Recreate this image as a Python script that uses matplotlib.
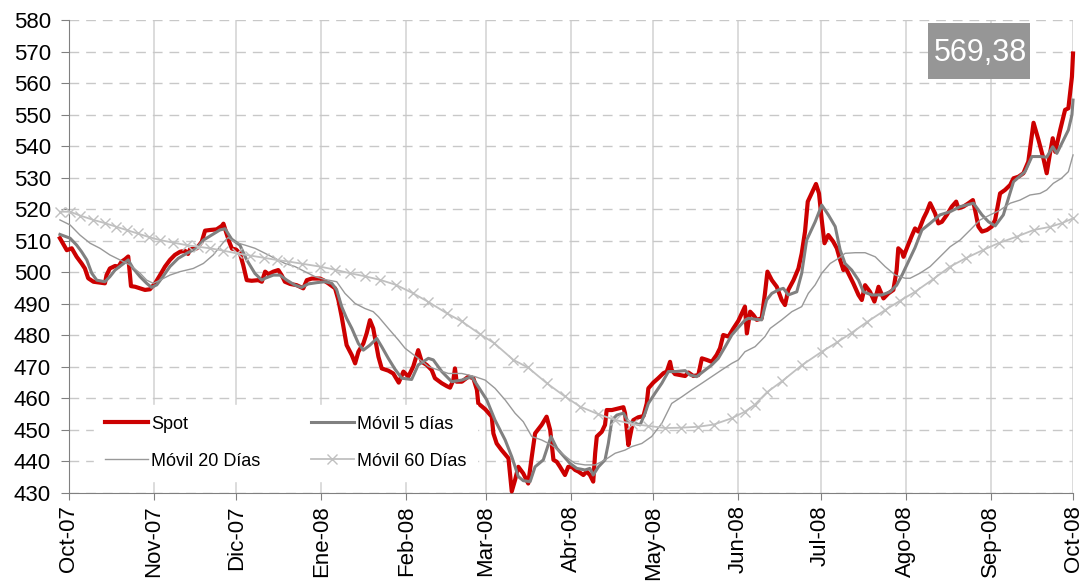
import numpy as np
import pandas as pd
import matplotlib
matplotlib.use("Agg")
import matplotlib.pyplot as plt
import matplotlib.dates as mdates
from matplotlib.patches import Rectangle

plt.rcParams["font.family"] = ["Liberation Sans", "DejaVu Sans"]

# x values are days since 1 Oct 2007
spot_days = [-3.3, -0.8, 1.0, 2.8, 4.6, 5.8, 7.0, 8.9, 11.3, 13.1, 13.7, 14.9, 16.8, 18.0, 19.2,
             20.4, 21.6, 22.6, 24.1, 25.9, 27.7, 29.5, 31.4, 33.2, 35.0, 36.8, 38.6, 40.5, 42.3,
             43.4, 44.1, 46.6, 48.4, 49.6, 51.4, 53.8, 55.7, 56.3, 57.6, 58.7, 59.4, 60.9, 62.3,
             63.5, 64.8, 66.6, 69.0, 70.3, 71.5, 72.7, 74.5, 76.3, 77.5, 78.7, 80.6, 83.0, 85.4,
             86.7, 88.5, 91.5, 92.7, 94.5, 97.0, 98.2, 99.4, 101.2, 103.1, 104.3, 105.5, 107.3,
             108.5, 109.7, 110.9, 112.8, 114.0, 116.4, 118.2, 120.2, 121.9, 123.7, 125.5, 127.3,
             128.6, 130.4, 132.2, 133.4, 135.9, 137.7, 138.9, 140.1, 140.7, 141.3, 143.2, 145.6,
             147.4, 148.7, 149.2, 151.8, 154.1, 154.7, 155.9, 157.7, 160.2, 161.4, 162.6, 163.8,
             165.6, 167.4, 168.7, 169.9, 172.3, 174.1, 175.4, 176.6, 177.8, 179.0, 180.8, 182.0,
             183.3, 184.5, 185.7, 187.5, 188.7, 189.9, 191.1, 191.8, 192.4, 194.2, 195.4, 196.0,
             197.9, 200.3, 202.1, 202.7, 203.9, 204.5, 205.7, 207.5, 209.4, 210.6, 211.2, 213.0,
             214.8, 216.7, 217.9, 219.1, 219.7, 220.9, 222.8, 224.6, 225.8, 227.6, 229.4, 230.7,
             232.5, 234.3, 236.1, 237.3, 238.5, 240.4, 242.2, 244.0, 245.8, 246.4, 247.1, 248.3,
             249.5, 250.7, 252.5, 253.7, 254.6, 256.2, 258.0, 259.8, 261.0, 262.2, 264.1, 265.9,
             267.1, 268.3, 269.3, 270.7, 272.3, 273.4, 274.4, 275.4, 276.8, 278.6, 279.9, 281.1,
             282.3, 282.9, 284.1, 285.9, 287.8, 289.0, 290.2, 292.0, 293.6, 295.1, 296.9, 298.7,
             300.5, 301.7, 302.3, 303.6, 304.2, 305.4, 307.2, 308.4, 309.6, 311.5, 312.7, 313.9,
             315.7, 316.9, 318.2, 320.0, 321.8, 323.4, 324.2, 326.0, 327.9, 329.5, 330.3, 331.5,
             332.8, 334.6, 336.4, 337.6, 339.4, 341.2, 343.1, 344.3, 346.1, 347.9, 349.7, 351.6,
             353.4, 355.2, 356.4, 357.6, 358.6, 359.5, 361.3, 363.1, 364.3, 365.6, 366.0]
spot_vals = [510.8, 507.0, 507.6, 504.9, 502.8, 501.2, 498.1, 497.0, 496.7, 496.5, 499.1, 501.2,
             502.0, 501.8, 503.4, 504.1, 505.0, 495.6, 495.4, 494.9, 494.4, 494.6, 496.5, 499.1,
             501.8, 503.9, 505.5, 506.5, 506.8, 505.8, 507.3, 507.6, 509.7, 513.2, 513.4, 513.6,
             514.7, 515.4, 511.8, 509.0, 507.5, 507.2, 506.0, 502.3, 497.5, 497.3, 497.5, 497.0,
             500.2, 499.4, 500.2, 500.7, 499.1, 497.0, 496.3, 495.9, 494.9, 497.5, 498.0, 498.0,
             497.5, 496.5, 494.9, 491.2, 485.9, 476.9, 473.7, 471.1, 474.8, 477.4, 480.6, 484.8,
             482.2, 473.2, 469.5, 468.8, 467.9, 465.0, 468.5, 466.9, 470.1, 475.3, 471.6, 470.6,
             469.0, 466.4, 464.8, 463.9, 463.4, 465.8, 469.5, 465.3, 465.3, 466.9, 466.4, 462.7,
             458.4, 456.5, 454.2, 448.9, 445.7, 443.6, 441.0, 430.5, 434.1, 438.3, 436.2, 433.0,
             441.5, 448.9, 451.6, 454.2, 450.0, 440.5, 439.9, 438.3, 435.7, 438.3, 438.3, 437.3,
             436.8, 435.7, 436.8, 435.7, 433.6, 442.6, 447.9, 449.4, 451.6, 456.3, 456.3, 456.8,
             457.2, 455.3, 445.2, 447.9, 453.1, 454.0, 454.4, 458.4, 463.2, 465.0, 466.4, 468.0,
             468.5, 471.6, 469.0, 467.7, 467.4, 467.1, 468.2, 467.1, 467.4, 472.7, 472.2, 471.6,
             473.8, 475.9, 480.1, 479.6, 482.2, 484.6, 488.0, 489.1, 480.6, 487.5, 486.4, 484.9,
             485.4, 493.3, 500.2, 497.5, 495.4, 491.2, 489.6, 494.4, 497.5, 501.2, 506.0, 512.9,
             522.4, 525.0, 528.0, 525.0, 516.6, 509.2, 511.8, 509.7, 507.6, 503.9, 500.7, 501.8,
             499.7, 496.5, 492.8, 491.2, 495.9, 493.8, 490.7, 495.4, 491.7, 493.3, 494.4, 500.7,
             507.6, 506.5, 504.9, 507.6, 511.5, 513.9, 512.9, 517.1, 519.2, 521.9, 518.7, 515.5,
             516.0, 518.2, 520.8, 522.4, 520.3, 520.8, 521.9, 522.9, 519.7, 514.5, 512.9, 513.4,
             514.5, 516.6, 525.0, 526.1, 527.7, 529.8, 530.3, 531.4, 535.1, 547.4, 542.0, 536.1,
             531.4, 537.7, 542.5, 538.2, 545.1, 551.5, 552.0, 562.0, 569.38]

ma5_days = [-3.3, 0.4, 2.8, 4.6, 6.5, 8.3, 10.1, 13.1, 14.9, 16.8, 19.2, 21.6, 23.4, 25.9, 28.3,
            30.1, 32.0, 33.8, 36.8, 39.8, 42.9, 46.6, 49.0, 52.0, 55.0, 56.9, 59.3, 62.3, 64.8,
            67.8, 70.3, 71.5, 74.5, 76.9, 79.4, 82.4, 84.8, 87.2, 90.3, 93.3, 95.8, 97.6, 99.4,
            101.2, 103.1, 105.5, 107.3, 109.7, 112.2, 114.0, 116.4, 118.8, 121.3, 124.9, 127.3,
            131.0, 132.8, 135.9, 139.5, 143.2, 146.8, 149.2, 152.3, 155.3, 159.0, 161.4, 163.8,
            165.6, 168.1, 169.9, 172.9, 175.7, 177.8, 180.8, 182.6, 185.1, 188.1, 189.9, 191.1,
            193.0, 195.4, 196.6, 197.9, 199.7, 202.1, 203.9, 206.3, 208.2, 210.0, 211.2, 213.6,
            216.1, 218.5, 220.9, 224.6, 226.4, 228.8, 231.2, 234.3, 236.7, 239.2, 241.6, 244.0,
            246.4, 247.7, 250.1, 252.5, 254.3, 256.2, 258.6, 260.4, 262.2, 265.3, 267.1, 268.9,
            272.0, 274.4, 276.8, 279.3, 281.1, 282.9, 285.3, 287.8, 289.6, 292.6, 296.3, 299.3,
            301.7, 303.6, 306.0, 308.4, 310.9, 313.9, 317.5, 321.2, 324.8, 329.7, 332.8, 335.2,
            337.6, 340.6, 344.3, 348.5, 351.0, 354.0, 356.4, 358.6, 360.1, 362.5, 364.3, 365.6,
            366.0]
ma5_vals = [512.0, 510.8, 508.6, 506.5, 503.9, 499.7, 497.5, 497.0, 498.6, 500.7, 502.3, 503.9,
            501.2, 498.6, 496.5, 495.2, 496.0, 498.1, 501.8, 504.4, 506.0, 507.6, 510.2, 511.8,
            513.4, 513.8, 510.5, 508.6, 503.9, 499.6, 497.5, 498.1, 499.1, 499.1, 497.5, 495.9,
            495.2, 496.3, 496.7, 497.0, 496.5, 494.4, 489.1, 485.4, 482.2, 477.4, 475.3, 476.9,
            479.0, 476.4, 472.7, 469.3, 466.4, 466.0, 470.6, 472.7, 472.2, 468.5, 465.3, 465.8,
            466.9, 463.7, 459.5, 453.1, 446.8, 441.5, 435.2, 433.9, 433.6, 438.3, 440.5, 447.9,
            444.2, 441.2, 439.4, 437.8, 437.3, 437.8, 435.7, 438.3, 440.5, 445.7, 453.1, 454.7,
            455.3, 452.6, 452.1, 451.6, 455.3, 458.4, 461.6, 464.8, 468.5, 468.5, 468.8, 467.4,
            466.9, 468.5, 470.6, 472.7, 476.4, 480.1, 482.5, 484.8, 485.4, 485.1, 484.9, 491.2,
            493.3, 494.4, 494.9, 492.8, 493.8, 499.7, 510.2, 516.0, 521.3, 518.2, 514.5, 507.1,
            502.8, 500.7, 497.5, 493.8, 492.8, 492.8, 493.8, 495.9, 499.0, 503.4, 507.8, 513.4,
            515.5, 518.2, 519.2, 520.8, 521.9, 518.2, 516.0, 514.7, 518.2, 528.7, 531.9, 536.7,
            536.7, 536.5, 539.8, 537.7, 541.9, 545.1, 549.9, 554.6]

ma20_days = [-3.3, 0.4, 4.0, 7.7, 11.3, 14.9, 18.6, 22.2, 25.9, 28.3, 30.7, 33.2, 36.8, 40.5,
             45.3, 49.0, 52.6, 56.3, 58.0, 60.6, 64.2, 67.8, 71.5, 75.1, 78.7, 82.4, 86.0, 89.7,
             93.3, 97.6, 100.6, 104.3, 107.9, 110.9, 112.8, 116.4, 120.1, 122.5, 127.3, 131.0,
             134.6, 138.3, 143.2, 148.0, 151.7, 155.3, 159.0, 162.6, 165.6, 168.7, 172.3, 176.0,
             179.6, 182.6, 184.5, 188.1, 191.8, 195.4, 199.1, 202.7, 205.1, 208.8, 212.4, 216.1,
             219.7, 223.4, 227.0, 230.7, 234.3, 237.9, 241.6, 244.0, 246.4, 250.1, 253.7, 255.6,
             259.8, 263.5, 267.1, 269.5, 272.0, 274.4, 277.5, 280.5, 282.9, 286.6, 290.2, 293.9,
             297.5, 301.2, 304.8, 306.6, 310.2, 313.9, 317.5, 321.2, 324.8, 328.5, 332.1, 335.8,
             339.4, 343.1, 346.7, 350.3, 354.0, 356.4, 358.8, 361.8, 364.3, 366.0]
ma20_vals = [516.6, 515.0, 511.8, 509.2, 507.6, 505.5, 503.9, 502.3, 499.7, 497.5, 496.5, 497.5,
             499.1, 500.2, 501.2, 502.8, 505.5, 509.5, 511.0, 509.5, 508.6, 507.6, 506.0, 504.4,
             502.8, 501.8, 500.2, 498.6, 497.7, 497.0, 493.3, 490.1, 488.5, 487.5, 485.9, 482.2,
             478.5, 475.9, 472.7, 470.1, 469.0, 467.9, 467.9, 466.9, 465.8, 463.2, 459.5, 455.3,
             452.6, 447.9, 446.8, 445.2, 442.6, 440.5, 439.4, 438.9, 438.9, 440.5, 442.6, 443.6,
             444.7, 445.7, 447.9, 452.1, 458.4, 460.5, 462.7, 464.8, 466.9, 469.0, 471.1, 472.2,
             474.8, 476.4, 479.6, 482.2, 484.9, 487.5, 489.1, 493.3, 496.0, 499.7, 502.8, 504.4,
             506.0, 506.2, 506.2, 504.9, 501.8, 499.1, 498.1, 498.1, 499.7, 501.8, 504.9, 508.1,
             510.2, 513.4, 516.6, 518.2, 519.7, 521.9, 522.9, 524.5, 525.0, 526.1, 528.2, 529.8,
             531.9, 537.2]

ma60_days = [-3.3, 0.4, 4.0, 8.9, 13.0, 17.0, 21.0, 25.0, 29.0, 33.2, 38.0, 42.9, 47.0, 51.4,
             56.0, 61.1, 66.0, 71.0, 75.7, 80.0, 85.0, 91.5, 97.0, 102.4, 108.0, 113.4, 119.2,
             125.5, 131.0, 137.7, 143.2, 149.8, 155.0, 162.0, 167.3, 174.2, 180.8, 186.3, 192.9,
             199.0, 205.1, 211.0, 217.3, 223.0, 229.3, 235.0, 241.6, 246.4, 250.0, 254.5, 260.0,
             267.1, 274.4, 280.0, 285.3, 291.0, 297.5, 303.0, 308.4, 315.0, 321.2, 327.0, 333.3,
             339.0, 345.5, 351.6, 357.6, 362.0, 366.0]
ma60_vals = [519.2, 519.2, 518.0, 516.6, 515.6, 514.5, 513.4, 512.3, 511.2, 510.2, 509.4, 508.6,
             508.1, 507.6, 506.9, 506.0, 505.3, 504.6, 503.9, 503.4, 502.7, 501.8, 500.8, 499.7,
             498.7, 497.6, 496.0, 493.3, 490.6, 487.0, 484.4, 480.4, 477.5, 472.2, 469.8, 464.8,
             460.6, 457.4, 455.0, 453.2, 451.9, 451.3, 450.6, 450.7, 451.0, 451.7, 453.7, 455.8,
             458.0, 462.0, 465.5, 470.5, 474.8, 477.8, 480.8, 484.3, 488.0, 491.0, 493.8, 497.8,
             501.8, 504.5, 507.1, 509.3, 511.3, 513.4, 514.4, 515.6, 517.1]

month_labels = ["Oct-07", "Nov-07", "Dic-07", "Ene-08", "Feb-08", "Mar-08", "Abr-08",
                "May-08", "Jun-08", "Jul-08", "Ago-08", "Sep-08", "Oct-08"]
last_value = "569,38"

base = mdates.date2num(np.datetime64("2007-10-01"))
month_pos = mdates.date2num(pd.date_range("2007-10-01", "2008-10-01", freq="MS").to_numpy())

def to_x(days):
    return base + np.array(days)

fig = plt.figure(figsize=(10.83, 5.85), dpi=100)
ax = fig.add_axes([0.0637, 0.1573, 0.9271, 0.8085])

l_spot, = ax.plot(to_x(spot_days), spot_vals, color="#cc0000", lw=3.0, label="Spot",
                  clip_on=False, zorder=3, solid_joinstyle="round")
l_ma5, = ax.plot(to_x(ma5_days), ma5_vals, color="#808080", lw=2.2, label="Móvil 5 días",
                 clip_on=False, zorder=4)
l_ma20, = ax.plot(to_x(ma20_days), ma20_vals, color="#999999", lw=1.0, label="Móvil 20 Días",
                  clip_on=False, zorder=5)
l_ma60, = ax.plot(to_x(ma60_days), ma60_vals, color="#c0c0c0", lw=1.3, marker="x", ms=7,
                  mew=1.0, label="Móvil 60 Días", clip_on=False, zorder=6)

ax.set_xlim(month_pos[0], month_pos[-1])
ax.set_ylim(430, 580)
ax.set_yticks(np.arange(430, 581, 10))
ax.set_xticks(month_pos)
ax.set_xticklabels(month_labels, rotation=90)

ax.tick_params(axis="y", labelsize=16, length=6, pad=7, color="#808080")
ax.tick_params(axis="x", labelsize=16, length=5, pad=4, color="#808080")

ax.grid(axis="y", color="#c8c8c8", lw=1.0, linestyle=(0, (7, 5)))
ax.grid(axis="x", color="#d6d6d6", lw=1.2)
ax.set_axisbelow(True)

for s in ["top", "right"]:
    ax.spines[s].set_visible(False)
for s in ["left", "bottom"]:
    ax.spines[s].set_color("#808080")

leg = ax.legend(handles=[l_spot, l_ma20, l_ma5, l_ma60], ncol=2, loc="lower left",
                bbox_to_anchor=(0.016, 0.007), fontsize=13, frameon=True, fancybox=False,
                handlelength=2.4, handletextpad=0.15, columnspacing=2.8, labelspacing=1.12,
                borderpad=0.6)
leg.get_frame().set_facecolor("white")
leg.get_frame().set_edgecolor("white")
leg.get_frame().set_alpha(1)
leg.set_zorder(10)

# last value label box
ax.add_patch(Rectangle((0.8556, 0.8753), 0.1016, 0.1184, transform=ax.transAxes,
                       facecolor="#969696", edgecolor="none", zorder=11, clip_on=False))
ax.text(0.9074, 0.9133, last_value, transform=ax.transAxes, fontsize=22, color="white",
        ha="center", va="baseline", zorder=12)

fig.savefig("out.png", dpi=100)
